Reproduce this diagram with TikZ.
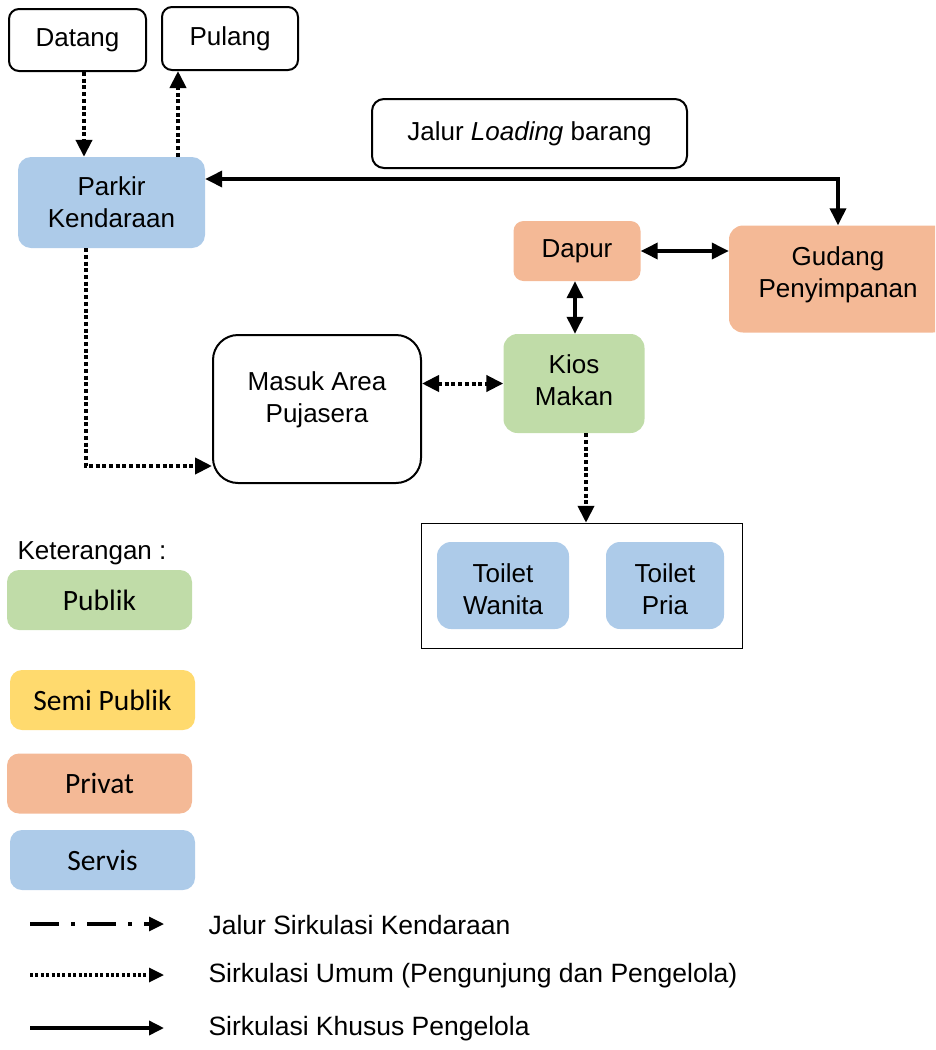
\documentclass[tikz,border=0pt]{standalone}
\usepackage{fontspec}
\setmainfont{Liberation Sans}
\newfontfamily\calfont{Carlito}
\usetikzlibrary{arrows.meta}
\definecolor{zblue}{HTML}{ADCBE9}
\definecolor{zpeach}{HTML}{F4B996}
\definecolor{zgreen}{HTML}{C0DCA8}
\definecolor{zyellow}{HTML}{FFDA6E}
\begin{document}
\begin{tikzpicture}[x=1pt,y=-1pt,
  txt/.style={font=\fontsize{26}{32}\selectfont, align=center, text=black},
  ltxt/.style={font=\fontsize{26.5}{32}\selectfont, text=black},
  box/.style={txt, draw=black, line width=2pt, rounded corners=10pt, inner sep=0pt},
  zone/.style={txt, rounded corners=13pt, inner sep=0pt},
  leg/.style={font=\calfont\fontsize{29.5}{34}\selectfont, rounded corners=12pt, inner sep=0pt, minimum width=185pt, minimum height=60pt},
  tip/.style={-{Triangle[length=17pt,width=16pt]}},
  bitip/.style={{Triangle[length=17pt,width=16pt]}-{Triangle[length=17pt,width=16pt]}},
  ltip/.style={-{Triangle[length=15pt,width=14pt]}},
  pub/.style={line width=4pt, dash pattern=on 4pt off 2.7pt},
  mgr/.style={line width=3.5pt},
]
\useasboundingbox (0,0) rectangle (935,1050);
\clip (0,0) rectangle (935,1050);

% top boxes
\node[box, minimum width=137pt, minimum height=62pt] (datang) at (77.5,40) {Datang};
\node[box, minimum width=136pt, minimum height=63pt] (pulang) at (230,38.5) {Pulang};
\node[box, rounded corners=12pt, minimum width=315pt, minimum height=69pt] (jalur) at (529.5,133.5) {Jalur \textit{Loading} barang};

% zones
\node[zone, fill=zblue, minimum width=187pt, minimum height=91pt] (parkir) at (111.5,202.5) {Parkir\\Kendaraan};
\node[zone, fill=zpeach, rounded corners=10pt, minimum width=127pt, minimum height=60pt] (dapur) at (577,251) {Dapur};
\node[zone, fill=zpeach, rounded corners=14pt, minimum width=218pt, minimum height=107pt,
  label={[txt, yshift=4pt, name=gudangtxt]center:Gudang\\Penyimpanan}] (gudang) at (838,279) {};
\node[box, rounded corners=25pt, minimum width=208pt, minimum height=148pt,
  label={[txt, yshift=9pt, name=masuktxt]center:Masuk Area\\Pujasera}] (masuk) at (317,409) {};
\node[zone, fill=zgreen, rounded corners=14pt, minimum width=141pt, minimum height=99pt,
  label={[txt, yshift=3pt, name=kiostxt]center:Kios\\Makan}] (kios) at (574,383.5) {};

% toilets
\node[draw=black, line width=1.5pt, minimum width=321pt, minimum height=125pt, inner sep=0pt] (toilets) at (582,586) {};
\node[zone, fill=zblue, rounded corners=14pt, minimum width=132pt, minimum height=87pt,
  label={[txt, yshift=-4pt, name=wanitatxt]center:Toilet\\Wanita}] (wanita) at (503,585.5) {};
\node[zone, fill=zblue, rounded corners=14pt, minimum width=118pt, minimum height=87pt,
  label={[txt, yshift=-4pt, name=priatxt]center:Toilet\\Pria}] (pria) at (665,585.5) {};

% connectors
\draw[pub, tip] ([xshift=6.5pt]datang.south) -- ([xshift=6.5pt]datang.south |- parkir.north);
\draw[pub, tip] ([xshift=-52pt]pulang.south |- parkir.north) -- ([xshift=-52pt]pulang.south);
\draw[mgr, bitip] ([yshift=23.5pt]parkir.east) -| (gudang.north);
\draw[mgr, bitip] (dapur.east) -- (dapur.east -| gudang.west);
\draw[mgr, bitip] ([xshift=-2pt]dapur.south) -- ([xshift=-2pt]dapur.south |- kios.north);
\draw[pub, bitip] (masuk.east |- kios.west) -- (kios.west);
\draw[pub, tip] ([xshift=-26pt]parkir.south) |- ([yshift=-57pt]masuk.west);
\draw[pub, tip] ([xshift=12pt]kios.south) -- ([xshift=12pt]kios.south |- toilets.north);

% legend
\node[txt, anchor=west] (ket) at (14,553) {Keterangan :};
\node[leg, fill=zgreen] (lpublik) at (99.5,600) {Publik};
\node[leg, fill=zyellow] (lsemi) at (102.5,700) {Semi Publik};
\node[leg, fill=zpeach] (lprivat) at (99.5,783.5) {Privat};
\node[leg, fill=zblue] (lservis) at (102.5,860) {Servis};

\coordinate (l1a) at (30,924); \coordinate (l1b) at (164,924);
\coordinate (l2a) at (30,975); \coordinate (l2b) at (164,975);
\coordinate (l3a) at (30,1028); \coordinate (l3b) at (164,1028);
\draw[line width=3.2pt, dash pattern=on 29pt off 12pt on 4pt off 12pt, ltip] (l1a) -- (l1b);
\draw[line width=3.2pt, dash pattern=on 3pt off 2.4pt, ltip] (l2a) -- (l2b);
\draw[line width=3.5pt, ltip] (l3a) -- (l3b);
\node[ltxt, anchor=west] (t1) at (205,925) {Jalur Sirkulasi Kendaraan};
\node[ltxt, anchor=west] (t2) at (205,976) {Sirkulasi Umum (Pengunjung dan Pengelola)};
\node[ltxt, anchor=west] (t3) at (205,1029) {Sirkulasi Khusus Pengelola};
\end{tikzpicture}
\end{document}
